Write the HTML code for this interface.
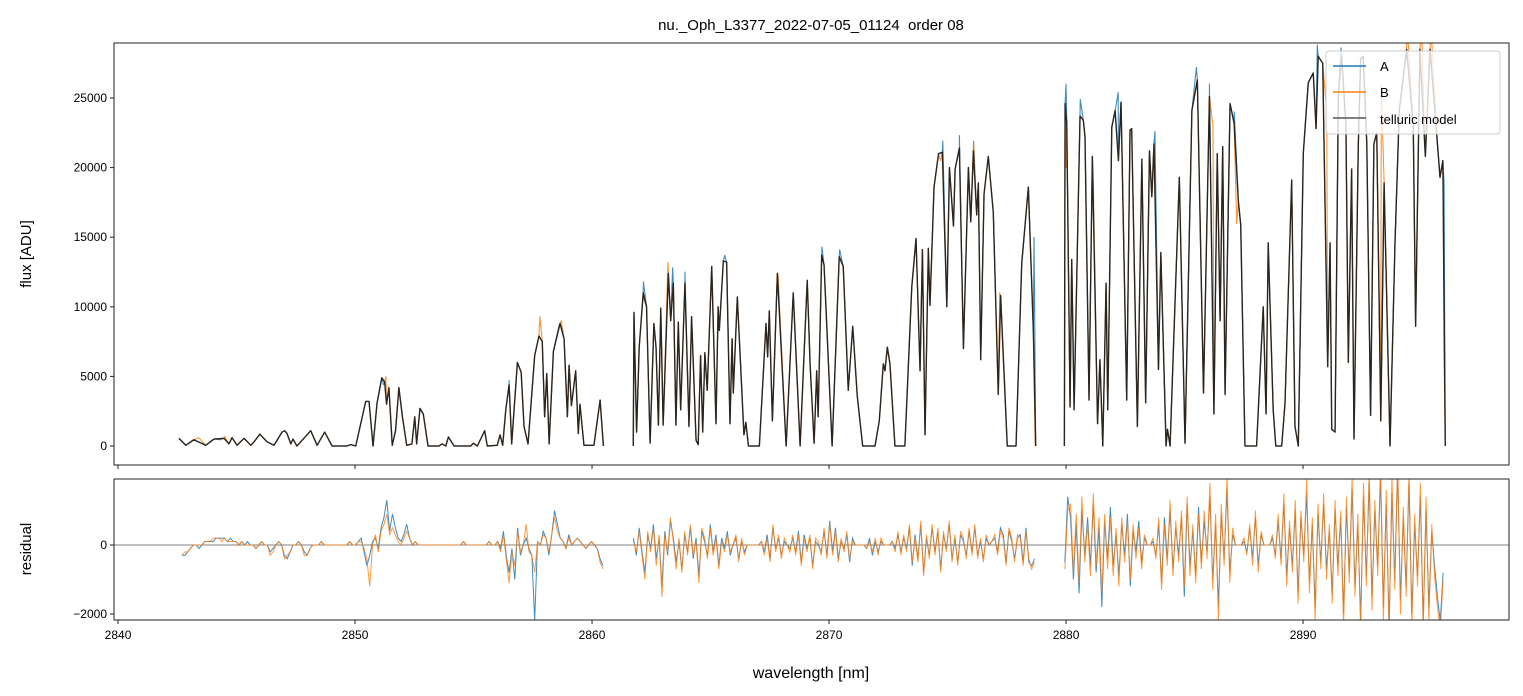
<!DOCTYPE html>
<html><head><meta charset="utf-8"><style>
body{margin:0;background:#fff;}
svg{display:block;font-family:"Liberation Sans","DejaVu Sans",sans-serif;}
</style></head><body>
<svg id="chart" width="1523" height="696" viewBox="0 0 1523 696">
<defs>
<clipPath id="clipTop"><rect x="114" y="43" width="1395" height="422"/></clipPath>
<clipPath id="clipBot"><rect x="114" y="479" width="1395" height="141"/></clipPath>
</defs>
<rect width="1523" height="696" fill="#fff"/>
<text x="811" y="30" text-anchor="middle" font-size="15" fill="#000" style="white-space:pre">nu._Oph_L3377_2022-07-05_01124  order 08</text>
<g id="topMarks" clip-path="url(#clipTop)"></g>
<g id="botMarks" clip-path="url(#clipBot)"></g>
<g id="axes"></g>
<text transform="translate(31,254) rotate(-90)" text-anchor="middle" font-size="15">flux [ADU]</text>
<text transform="translate(31,549) rotate(-90)" text-anchor="middle" font-size="15">residual</text>
<text x="811" y="678" text-anchor="middle" font-size="16">wavelength [nm]</text>
<g>
<rect x="1326" y="51" width="174" height="83" rx="3" fill="#fff" fill-opacity="0.8" stroke="#ccc"/>
<line x1="1333" y1="66" x2="1366" y2="66" stroke="#1f77b4" stroke-width="1.5"/>
<text x="1380" y="71" font-size="13">A</text>
<line x1="1333" y1="92" x2="1366" y2="92" stroke="#ff7f0e" stroke-width="1.5"/>
<text x="1380" y="97" font-size="13">B</text>
<line x1="1333" y1="118" x2="1366" y2="118" stroke="#555" stroke-width="1.5"/>
<text x="1380" y="124" font-size="13">telluric model</text>
</g>
</svg>
<script>
const xTicks=[2840,2850,2860,2870,2880,2890];
const yTicksTop=[0,5000,10000,15000,20000,25000];
const yTicksBot=[-2000,0];
const modelWl=[2842.57,2842.86,2843.2,2843.7,2844.05,2844.47,2844.68,2844.81,2845.02,2845.32,2845.6,2845.74,2845.98,2846.29,2846.58,2846.92,2847.03,2847.13,2847.29,2847.38,2847.55,2848.13,2848.4,2848.72,2849.03,2849.66,2849.82,2850.03,2850.24,2850.45,2850.59,2850.76,2850.93,2851.13,2851.25,2851.33,2851.43,2851.57,2851.71,2851.85,2852.0,2852.18,2852.4,2852.52,2852.6,2852.74,2852.88,2853.08,2853.54,2853.67,2853.83,2853.94,2854.18,2854.88,2854.99,2855.16,2855.47,2855.58,2856.0,2856.12,2856.23,2856.36,2856.5,2856.61,2856.85,2857.01,2857.13,2857.3,2857.58,2857.76,2857.9,2858.0,2858.09,2858.19,2858.37,2858.65,2858.82,2858.96,2859.03,2859.13,2859.31,2859.42,2859.49,2859.66,2860.08,2860.34,2860.48,null,
2861.74,2861.77,2861.88,2861.99,2862.16,2862.3,2862.45,2862.61,2862.7,2862.8,2862.9,2863.0,2863.22,2863.32,2863.43,2863.54,2863.64,2863.74,2863.92,2864.09,2864.2,2864.39,2864.48,2864.58,2864.67,2864.76,2864.86,2865.05,2865.23,2865.32,2865.37,2865.54,2865.68,2865.82,2865.91,2865.96,2866.13,2866.41,2866.49,2866.6,2867.06,2867.34,2867.41,2867.48,2867.61,2867.82,2868.19,2868.49,2868.78,2869.08,2869.2,2869.37,2869.48,2869.54,2869.69,2869.79,2870.13,2870.43,2870.6,2870.81,2871.0,2871.19,2871.42,2871.94,2872.12,2872.29,2872.36,2872.46,2872.57,2872.78,2873.2,2873.49,2873.67,2873.84,2873.94,2874.05,2874.19,2874.26,2874.43,2874.62,2874.78,2874.97,2875.08,2875.25,2875.32,2875.5,2875.67,2875.88,2875.98,2876.09,2876.23,2876.3,2876.4,2876.54,2876.72,2876.93,2877.14,2877.24,2877.52,2877.89,2878.13,2878.41,2878.62,2878.72,null,
2879.93,2879.96,2880.03,2880.17,2880.24,2880.34,2880.59,2880.73,2880.8,2880.97,2881.11,2881.33,2881.43,2881.55,2881.69,2881.76,2881.93,2882.07,2882.21,2882.32,2882.56,2882.7,2882.77,2883.01,2883.2,2883.36,2883.52,2883.62,2883.71,2883.9,2884.0,2884.22,2884.28,2884.39,2884.78,2885.02,2885.31,2885.54,2885.8,2886.05,2886.24,2886.38,2886.5,2886.61,2886.71,2886.92,2887.09,2887.27,2887.37,2887.55,2888.04,2888.32,2888.44,2888.53,2888.74,2888.85,2889.1,2889.24,2889.52,2889.66,2889.8,2890.01,2890.22,2890.43,2890.55,2890.64,2890.83,2891.04,2891.14,2891.21,2891.35,2891.49,2891.63,2891.81,2891.91,2892.05,2892.15,2892.33,2892.43,2892.54,2892.69,2892.85,2892.99,2893.11,2893.28,2893.42,2893.67,2893.88,2894.06,2894.37,2894.65,2894.75,2894.93,2895.16,2895.36,2895.67,2895.78,2895.9,2896.0];
const modelFlux=[550,50,450,50,500,550,150,600,50,550,50,300,850,300,50,1000,1100,900,150,500,0,1100,50,1000,0,0,100,0,1600,3200,3200,0,3100,4900,4600,3000,4200,50,1100,4200,2100,50,150,2100,150,2700,2300,0,0,150,0,650,0,0,200,0,1100,0,50,800,50,2600,4400,150,6000,5300,1400,150,6500,7900,7500,2100,5200,150,6800,8800,7700,2100,5800,2900,5400,900,3000,50,50,3300,0,null,
0,9600,1000,7100,11000,10000,200,8800,7100,1500,9900,1500,12400,9000,11700,1500,8900,2600,11700,1400,9300,400,100,6500,1000,6700,4000,12900,1600,10000,8300,13300,13200,1600,7700,3800,10700,800,1700,0,0,8800,6400,9700,1800,12400,0,11000,0,11900,5900,200,5400,2100,13700,13000,0,13600,12900,4000,8600,3600,0,0,1800,5900,5400,7100,5900,0,0,11400,14900,5400,14100,800,14200,10100,18600,21000,21100,10000,20000,15800,19900,21400,7000,20000,16100,21200,16600,18900,6200,18100,20800,16800,3700,10800,0,0,13100,18600,8300,0,null,
0,24600,23200,2800,13400,2600,23700,23400,22200,3300,20800,1600,6200,0,11700,2600,22900,24100,20500,24700,3300,22700,22800,1400,20600,3100,21200,17900,21700,5500,13900,0,1200,0,19300,200,24100,26300,3800,25100,2300,21000,9000,21500,3700,24600,23200,17600,15900,0,0,10000,2300,14600,2600,0,0,3100,19100,1400,0,21000,26100,26800,22800,28000,27500,5700,14600,1200,1000,25300,28000,23000,6000,19900,500,21500,27800,28000,21700,2200,21700,22500,1800,18900,0,14600,24100,28500,23000,8600,28500,20800,28500,21700,19300,20500,0];
const aDevWl=[2843.1,2844.3,2851.2,2856.5,2858.6,2862.17,2863.4,2863.92,2865.6,2869.7,2870.45,2874.8,2875.5,2876.1,2877.2,2878.65,2880.0,2880.6,2882.2,2883.75,2885.5,2886.05,2887.1,2890.6,2891.6,2895.95];
const aFluxDev=[350,450,4400,4700,8600,11800,12800,12500,13700,14300,14100,21900,22300,21900,8800,15000,26000,24900,25400,22600,27200,26000,24000,28800,28600,19000];
const bDevWl=[2843.4,2844.5,2851.3,2857.8,2858.7,2862.2,2863.2,2867.85,2874.7,2876.1,2877.2,2878.7,2880.0,2881.15,2886.2,2887.2,2891.0,2893.3,2894.4,2895.0,2895.4,2895.95];
const bFluxDev=[600,700,5000,9300,9000,10500,13200,12300,20500,21800,11000,0,20000,19000,23000,16000,24000,26000,30000,30000,30000,6700];
const resSegStart=[2842.7,2861.75,2879.95];
const resStep=0.12;
const resA1=[-3,-3,-2,-1,0,0,-1,0,1,1,1,1,2,2,2,2,1,2,1,1,0,1,0,1,0,0,-1,0,1,0,0,-2,-1,0,1,0,-3,-4,-2,0,0,1,0,-2,-3,-1,0,0,0,1,0,0,0,0,0,0,0,0,0,1,0,0,1,2,-2,-6,-3,1,2,-1,5,8,13,4,9,5,2,1,3,6,2,0,1,0,0,0,0,0,0,0,0,0,0,0,0,0,0,0,0,1,0,0,0,0,0,0,0,0,1,0,0,1,-1,4,-3,-8,-1,-10,5,-3,0,2,-1,-3,-22,1,0,4,2,-3,3,10,6,2,1,-1,3,0,1,2,1,0,-1,0,1,0,-1,-4,-6];
const resB1=[-3,-2,-2,-1,0,0,0,0,1,1,1,2,2,2,1,2,1,1,1,1,0,1,0,0,0,0,-1,0,1,0,0,-3,-2,0,1,0,-4,-3,-2,0,0,1,0,-3,-3,-1,0,0,0,1,0,0,0,0,0,0,0,0,0,1,0,0,1,1,-1,-4,-12,0,3,-2,4,6,9,3,5,3,1,0,2,4,2,0,1,0,0,0,0,0,0,0,0,0,0,0,0,0,0,0,0,1,0,0,0,0,0,0,0,0,1,0,0,1,-2,3,-4,-11,-2,-6,4,-2,0,6,-2,-3,-8,1,0,3,2,-2,3,8,4,2,1,-1,2,0,1,2,1,0,-1,0,1,0,-1,-5,-7];
const resA2=[2,-3,5,-2,-8,3,-1,6,-4,2,-12,4,-3,7,2,-5,1,-7,3,-2,5,-4,2,-9,4,1,-3,6,-2,3,-6,2,-1,4,-3,0,2,-4,1,-2,0,0,0,0,0,1,-2,3,-4,5,-1,2,-3,1,0,-1,2,-2,4,-5,3,-1,2,-6,1,0,-2,4,-3,7,-2,5,-4,1,-1,3,-5,2,0,0,0,0,-1,2,-3,1,-2,1,0,0,0,1,-1,3,-2,2,-1,5,-6,3,-4,6,-8,2,-3,5,-2,4,-7,3,-1,6,-4,2,-5,3,1,-3,4,-2,5,-3,1,-4,2,0,1,2,-2,5,3,-5,4,1,-4,2,3,-5,5,-5,-6,-4];
const resB2=[1,-2,4,-3,-10,4,-2,5,-6,3,-15,3,-2,8,1,-7,2,-8,4,-3,6,-3,1,-11,5,2,-4,5,-3,2,-7,1,-2,3,-2,0,3,-5,2,-3,0,0,0,0,0,1,-3,2,-5,6,-2,3,-4,2,0,-2,3,-3,3,-6,2,-2,3,-7,2,1,-3,5,-4,6,-3,4,-5,2,-2,4,-4,1,0,0,0,0,-1,1,-2,2,-3,2,0,0,0,1,-2,4,-3,3,-2,6,-5,2,-5,7,-9,3,-4,6,-3,5,-8,4,-2,7,-5,3,-6,4,2,-4,5,-3,6,-4,2,-5,3,0,1,3,-3,4,2,-6,5,2,-5,3,2,-6,4,-4,-7,-5];
const resA3=[-5,14,8,-10,6,-14,10,-3,8,-6,12,-8,5,-18,7,-4,11,-6,3,-9,6,-3,9,-12,4,-2,7,-5,2,0,0,1,-3,6,-11,8,-4,10,-7,5,-3,8,-15,12,-6,4,-9,11,-5,7,-2,14,-10,6,-18,9,-4,16,-8,3,0,0,0,1,-2,5,-4,8,-6,3,0,0,0,2,-3,7,-4,12,-9,5,-6,10,-14,8,-3,15,-11,6,-18,9,-5,12,-7,4,-14,10,-6,8,-20,11,-8,16,-12,6,-22,14,-9,18,-15,10,-6,20,-18,12,-24,15,-10,22,-16,8,-12,18,-20,6,-9,14,-22,10,-18,4,-6,-15,-22,-8];
const resB3=[-7,10,12,-8,9,-11,14,-5,6,-9,15,-6,8,-14,9,-7,8,-9,5,-12,8,-5,7,-10,6,-4,5,-7,3,0,0,2,-4,8,-13,6,-6,13,-9,7,-5,10,-12,14,-9,6,-11,9,-7,10,-4,18,-13,9,-22,12,-6,20,-11,5,0,0,0,2,-3,6,-6,10,-8,4,0,0,0,3,-4,9,-6,15,-12,7,-8,13,-17,10,-5,19,-14,8,-22,12,-7,15,-10,6,-17,13,-9,10,-24,14,-11,20,-15,9,-25,18,-12,22,-19,13,-9,24,-22,16,-26,20,-13,25,-20,11,-15,22,-24,9,-12,18,-25,14,-22,6,-9,-18,-25,-10];
const resUnit=100;

const NS='http://www.w3.org/2000/svg';
const X0=2839.83,X1=2898.69,PL=114,PR=1509;
const xs=v=>PL+(v-X0)/(X1-X0)*(PR-PL);
const ysTop=v=>446-v*0.01392;
const ysBot=v=>545-v*0.0345;
function mk(t,a,p){const e=document.createElementNS(NS,t);for(const k in a)e.setAttribute(k,a[k]);p.appendChild(e);return e;}
function pathFrom(pts,ys){let d='',pen=false;for(const p of pts){if(p[0]===null){pen=false;continue;}d+=(pen?'L':'M')+xs(p[0]).toFixed(2)+','+ys(p[1]).toFixed(2);pen=true;}return d;}
function modelPts(){return modelWl.map((w,i)=>[w,modelFlux[i]]);}
function merged(devWl,devF){
  const base=modelPts();const out=[];let seg=[];const segs=[];
  for(const p of base){if(p[0]===null){segs.push(seg);seg=[];}else seg.push(p);}segs.push(seg);
  segs.forEach((s,si)=>{const lo=s[0][0],hi=s[s.length-1][0];
    const all=s.slice();devWl.forEach((w,i)=>{if(w>=lo-0.05&&w<=hi+0.05)all.push([w,devF[i]]);});
    all.sort((a,b)=>a[0]-b[0]);out.push(...all);if(si<segs.length-1)out.push([null,null]);});
  return out;}
const topG=document.getElementById('topMarks');
const botG=document.getElementById('botMarks');
const axesG=document.getElementById('axes');
const pA=mk('path',{d:pathFrom(merged(aDevWl,aFluxDev),ysTop),fill:'none',stroke:'#1f77b4','stroke-width':1.1,'stroke-opacity':0.85,'stroke-linejoin':'round'},topG);


const pB=mk('path',{d:pathFrom(merged(bDevWl,bFluxDev),ysTop),fill:'none',stroke:'#ff7f0e','stroke-width':1.1,'stroke-opacity':0.85,'stroke-linejoin':'round'},topG);


const pM=mk('path',{d:pathFrom(modelPts(),ysTop),fill:'none',stroke:'#1a1a1a','stroke-width':1.4,'stroke-opacity':0.9,'stroke-linejoin':'round'},topG);


function resPts(segs){const out=[];segs.forEach((arr,si)=>{arr.forEach((v,i)=>out.push([resSegStart[si]+i*resStep,v*resUnit]));if(si<segs.length-1)out.push([null,null]);});return out;}
const rz=mk('line',{x1:PL,x2:PR,y1:ysBot(0),y2:ysBot(0),stroke:'#555','stroke-width':0.8},botG);


const rA=mk('path',{d:pathFrom(resPts([resA1,resA2,resA3]),ysBot),fill:'none',stroke:'#1f77b4','stroke-width':1,'stroke-opacity':0.85},botG);


const rB=mk('path',{d:pathFrom(resPts([resB1,resB2,resB3]),ysBot),fill:'none',stroke:'#ff7f0e','stroke-width':1,'stroke-opacity':0.8},botG);


[[43,465,'flux-axes-frame'],[479,620,'residual-axes-frame']].forEach(f=>{
  const r=mk('rect',{x:PL,y:f[0],width:PR-PL,height:f[1]-f[0],fill:'none',stroke:'#222','stroke-width':1},axesG);
  
  
});
xTicks.forEach(t=>{
  const x=xs(t);
  [465,620].forEach(yb=>{
    const l=mk('line',{x1:x,x2:x,y1:yb,y2:yb+4,stroke:'#222','stroke-width':1},axesG);
    
    
  });
  const tx=mk('text',{x:x,y:639,'text-anchor':'middle','font-size':12},axesG);
  tx.textContent=t;
  
  
});
yTicksTop.forEach(t=>{
  const y=ysTop(t);
  const l=mk('line',{x1:PL-4,x2:PL,y1:y,y2:y,stroke:'#222','stroke-width':1},axesG);
  
  
  const tx=mk('text',{x:PL-7,y:y+4,'text-anchor':'end','font-size':12},axesG);
  tx.textContent=t;
  
  
});
yTicksBot.forEach(t=>{
  const y=ysBot(t);
  const l=mk('line',{x1:PL-4,x2:PL,y1:y,y2:y,stroke:'#222','stroke-width':1},axesG);
  
  
  const tx=mk('text',{x:PL-7,y:y+4,'text-anchor':'end','font-size':12},axesG);
  tx.textContent=t===-2000?'\u22122000':t;
  
  
});
</script>
</body></html>
